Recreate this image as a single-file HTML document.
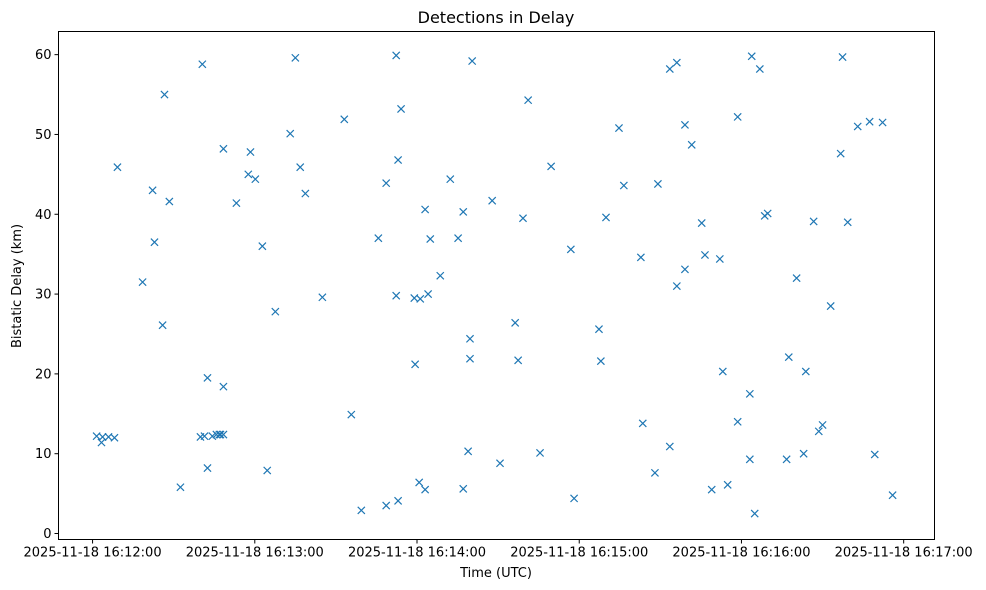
<!DOCTYPE html>
<html>
<head>
<meta charset="utf-8">
<style>
  html,body{margin:0;padding:0;background:#fff;}
  svg{display:block;font-family:"DejaVu Sans","Liberation Sans",sans-serif;}
</style>
</head>
<body>
<svg id="chart" width="986" height="590" viewBox="0 0 986 590">
  <rect x="0" y="0" width="986" height="590" fill="#fff"/>
  <text x="496" y="23" text-anchor="middle" font-size="16" fill="#000">Detections in Delay</text>
  <text x="496" y="577" text-anchor="middle" font-size="13" fill="#000">Time (UTC)</text>
  <text x="0" y="0" transform="translate(21,286) rotate(-90)" text-anchor="middle" font-size="13" fill="#000">Bistatic Delay (km)</text>
  <g id="ticks"></g>
  <g id="marks"></g>
  <rect x="58.5" y="31.5" width="876" height="508" fill="none" stroke="#000" stroke-width="1"/>
</svg>
<script>
// seconds after 2025-11-18 16:12:00
const times = [1.5,3.3,3.7,5.9,8.1,9.2,18.5,22.2,22.9,25.9,26.6,28.4,32.5,39.9,40.6,41.4,42.5,42.5,44.3,45.8,46.9,47.3,48.4,48.4,48.4,53.2,57.6,58.4,60.2,62.8,64.6,67.6,73.1,75.0,76.8,78.7,85.0,93.1,95.7,99.4,105.7,108.6,108.6,112.3,112.3,113.0,113.0,114.1,119.0,119.3,120.8,121.2,123.0,123.0,124.1,124.9,128.6,132.3,135.2,137.1,137.1,138.9,139.6,139.6,140.4,147.8,150.7,156.3,157.4,159.2,161.1,165.5,169.6,176.9,178.1,187.3,188.0,189.9,194.7,196.5,202.8,203.5,208.0,209.1,213.5,213.5,216.1,216.1,219.1,219.1,221.6,225.3,226.5,229.0,232.0,233.1,234.9,238.6,238.6,243.1,243.1,243.8,244.9,246.8,248.6,249.7,256.7,257.5,260.4,263.0,263.8,266.7,268.6,270.0,273.0,276.7,277.4,279.3,283.0,287.4,289.3,292.2,295.9];
const delays = [12.2,11.4,12.1,12.1,12.0,45.9,31.5,43.0,36.5,26.1,55.0,41.6,5.8,12.1,58.8,12.2,19.5,8.2,12.2,12.4,12.4,12.4,12.4,48.2,18.4,41.4,45.0,47.8,44.4,36.0,7.9,27.8,50.1,59.6,45.9,42.6,29.6,51.9,14.9,2.9,37.0,43.9,3.5,59.9,29.8,46.8,4.1,53.2,29.5,21.2,6.4,29.4,40.6,5.5,30.0,36.9,32.3,44.4,37.0,40.3,5.6,10.3,24.4,21.9,59.2,41.7,8.8,26.4,21.7,39.5,54.3,10.1,46.0,35.6,4.4,25.6,21.6,39.6,50.8,43.6,34.6,13.8,7.6,43.8,58.2,10.9,59.0,31.0,33.1,51.2,48.7,38.9,34.9,5.5,34.4,20.3,6.1,14.0,52.2,17.5,9.3,59.8,2.5,58.2,39.8,40.1,9.3,22.1,32.0,10.0,20.3,39.1,12.8,13.6,28.5,47.6,59.7,39.0,51.0,51.6,9.9,51.5,4.8];
const xTickSecs = [0,60,120,180,240,300];
const xTickLabels = ["2025-11-18 16:12:00","2025-11-18 16:13:00","2025-11-18 16:14:00","2025-11-18 16:15:00","2025-11-18 16:16:00","2025-11-18 16:17:00"];
const yTicks = [0,10,20,30,40,50,60];

const NS="http://www.w3.org/2000/svg";
const X0=58.5,X1=934.5,Y0=539.5,Y1=31.5;
const xMin=-12.6,xMax=311.4,yMin=-0.75,yMax=62.9;
function sx(v){return X0+(v-xMin)/(xMax-xMin)*(X1-X0);}
function sy(v){return Y0-(v-yMin)/(yMax-yMin)*(Y0-Y1);}
function mk(tag,attrs){const e=document.createElementNS(NS,tag);for(const k in attrs)e.setAttribute(k,attrs[k]);return e;}

const tg=document.getElementById('ticks');
xTickSecs.forEach((s,i)=>{
  const x=sx(s);
  const l=mk('line',{x1:x,x2:x,y1:Y0,y2:Y0+4,stroke:'#000'});
  
  
  tg.appendChild(l);
  const t=mk('text',{x:x,y:Y0+17,'text-anchor':'middle','font-size':'13',fill:'#000'});
  t.textContent=xTickLabels[i];
  
  
  tg.appendChild(t);
});
yTicks.forEach(v=>{
  const y=sy(v);
  const l=mk('line',{x1:X0-4,x2:X0,y1:y,y2:y,stroke:'#000'});
  
  
  tg.appendChild(l);
  const t=mk('text',{x:X0-7,y:y+4.5,'text-anchor':'end','font-size':'13',fill:'#000'});
  t.textContent=String(v);
  
  
  tg.appendChild(t);
});

const mg=document.getElementById('marks');
times.forEach((s,i)=>{
  const x=sx(s),y=sy(delays[i]),r=3.6;
  const p=mk('path',{d:`M${x-r},${y-r}L${x+r},${y+r}M${x-r},${y+r}L${x+r},${y-r}`,stroke:'#1f77b4','stroke-width':'1.2',fill:'none'});
  
  
  mg.appendChild(p);
});
</script>
</body>
</html>
